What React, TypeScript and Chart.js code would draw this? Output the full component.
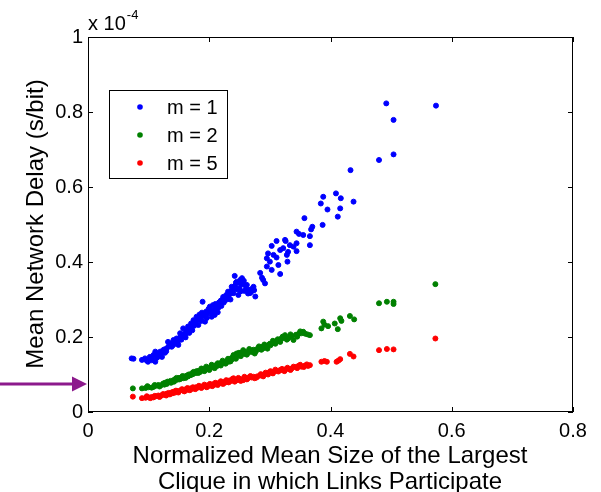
import React, { useEffect, useRef } from "react";
import { Chart, registerables } from "chart.js";

Chart.register(...registerables);

const FONT = "Arial, 'Liberation Sans', sans-serif";

const xTicks = [0, 0.2, 0.4, 0.6, 0.8];
const yTicks = [0, 0.2, 0.4, 0.6, 0.8, 1];
const seriesLabels = ["m = 1", "m = 2", "m = 5"];
const seriesColors = ["#0000ff", "#008000", "#ff0000"];
const xTitleLines = ["Normalized Mean Size of the Largest", "Clique in which Links Participate"];
const yTitle = "Mean Network Delay (s/bit)";

// m = 1 (blue), [x, y] with y in units of 1e-4
const m1Points: number[][] = [
  [0.072, 0.143], [0.075, 0.142], [0.089, 0.139], [0.094, 0.143], [0.099, 0.134], [0.102, 0.147],
  [0.105, 0.138], [0.108, 0.152], [0.111, 0.134], [0.111, 0.161], [0.114, 0.145], [0.116, 0.155],
  [0.119, 0.161], [0.122, 0.147], [0.124, 0.165], [0.127, 0.158], [0.130, 0.170], [0.132, 0.187],
  [0.135, 0.176], [0.138, 0.174], [0.141, 0.192], [0.143, 0.182], [0.146, 0.196], [0.149, 0.179],
  [0.152, 0.210], [0.155, 0.200], [0.157, 0.223], [0.160, 0.205], [0.162, 0.214], [0.165, 0.228],
  [0.168, 0.223], [0.170, 0.236], [0.172, 0.218], [0.174, 0.245], [0.176, 0.238], [0.179, 0.254],
  [0.180, 0.246], [0.182, 0.232], [0.184, 0.260], [0.186, 0.250], [0.188, 0.265], [0.189, 0.294],
  [0.190, 0.256], [0.193, 0.241], [0.195, 0.268], [0.197, 0.262], [0.199, 0.275], [0.201, 0.281],
  [0.203, 0.270], [0.204, 0.254], [0.206, 0.285], [0.208, 0.272], [0.209, 0.259], [0.210, 0.288],
  [0.212, 0.277], [0.214, 0.266], [0.216, 0.292], [0.218, 0.290], [0.220, 0.283], [0.222, 0.300],
  [0.223, 0.307], [0.225, 0.296], [0.226, 0.303], [0.228, 0.312], [0.230, 0.305], [0.231, 0.321],
  [0.233, 0.314], [0.235, 0.300], [0.237, 0.334], [0.238, 0.318], [0.240, 0.317], [0.242, 0.363],
  [0.244, 0.345], [0.245, 0.347], [0.247, 0.327], [0.248, 0.312], [0.250, 0.330], [0.251, 0.352],
  [0.253, 0.340], [0.254, 0.357], [0.256, 0.343], [0.258, 0.323], [0.260, 0.337], [0.262, 0.339],
  [0.264, 0.316], [0.267, 0.317], [0.270, 0.328], [0.273, 0.334], [0.274, 0.325], [0.276, 0.308],
  [0.284, 0.371], [0.287, 0.358], [0.289, 0.352], [0.292, 0.343], [0.295, 0.388], [0.295, 0.410],
  [0.297, 0.423], [0.300, 0.401], [0.303, 0.379], [0.303, 0.443], [0.306, 0.419], [0.311, 0.412],
  [0.311, 0.456], [0.314, 0.392], [0.317, 0.432], [0.317, 0.368], [0.322, 0.437], [0.325, 0.459],
  [0.326, 0.456], [0.328, 0.419], [0.329, 0.401], [0.330, 0.427], [0.333, 0.445], [0.339, 0.441],
  [0.344, 0.481], [0.344, 0.450], [0.344, 0.429], [0.348, 0.475], [0.355, 0.472], [0.357, 0.517],
  [0.366, 0.469], [0.366, 0.445], [0.368, 0.487], [0.370, 0.494], [0.384, 0.556], [0.387, 0.499],
  [0.388, 0.574], [0.395, 0.540], [0.409, 0.583], [0.412, 0.521], [0.416, 0.543], [0.417, 0.570],
  [0.433, 0.645], [0.438, 0.561], [0.480, 0.672], [0.492, 0.823], [0.504, 0.779], [0.504, 0.687],
  [0.574, 0.817],
  [0.097, 0.137], [0.106, 0.145], [0.113, 0.152], [0.118, 0.150], [0.121, 0.158], [0.126, 0.167],
  [0.129, 0.162], [0.133, 0.175], [0.137, 0.183], [0.140, 0.178], [0.144, 0.190], [0.148, 0.187],
  [0.151, 0.198], [0.154, 0.193], [0.158, 0.208], [0.161, 0.199], [0.164, 0.219], [0.167, 0.211],
  [0.171, 0.227], [0.175, 0.230], [0.178, 0.240], [0.183, 0.247], [0.187, 0.243], [0.191, 0.262],
  [0.196, 0.251], [0.200, 0.268], [0.205, 0.263], [0.211, 0.282], [0.215, 0.278], [0.219, 0.297],
  [0.224, 0.292], [0.229, 0.300], [0.232, 0.310], [0.236, 0.323], [0.241, 0.328], [0.243, 0.338],
  [0.249, 0.345], [0.252, 0.322], [0.257, 0.350], [0.261, 0.329], [0.265, 0.326], [0.269, 0.320],
];

// m = 2 (green)
const m2Points: number[][] = [
  [0.074, 0.063], [0.089, 0.063], [0.095, 0.064], [0.100, 0.066], [0.105, 0.065], [0.108, 0.067],
  [0.112, 0.070], [0.116, 0.072], [0.120, 0.071], [0.124, 0.076], [0.127, 0.078], [0.130, 0.075],
  [0.133, 0.080], [0.136, 0.083], [0.139, 0.081], [0.141, 0.085], [0.144, 0.088], [0.147, 0.086],
  [0.150, 0.091], [0.153, 0.089], [0.155, 0.093], [0.157, 0.090], [0.160, 0.095], [0.163, 0.097],
  [0.166, 0.100], [0.168, 0.098], [0.171, 0.103], [0.173, 0.101], [0.176, 0.106], [0.178, 0.104],
  [0.180, 0.108], [0.183, 0.110], [0.185, 0.107], [0.188, 0.112], [0.190, 0.115], [0.193, 0.113],
  [0.196, 0.117], [0.198, 0.115], [0.201, 0.118], [0.203, 0.121], [0.206, 0.119], [0.208, 0.123],
  [0.211, 0.125], [0.213, 0.123], [0.216, 0.127], [0.218, 0.130], [0.220, 0.128], [0.223, 0.133],
  [0.225, 0.131], [0.228, 0.135], [0.230, 0.137], [0.232, 0.134], [0.234, 0.139], [0.236, 0.143],
  [0.238, 0.141], [0.240, 0.152], [0.242, 0.146], [0.245, 0.156], [0.247, 0.150], [0.250, 0.153],
  [0.253, 0.158], [0.256, 0.165], [0.258, 0.155], [0.261, 0.160], [0.264, 0.158], [0.267, 0.163],
  [0.270, 0.160], [0.273, 0.166], [0.275, 0.156], [0.278, 0.167], [0.281, 0.171], [0.284, 0.168],
  [0.287, 0.174], [0.289, 0.170], [0.292, 0.176], [0.295, 0.173], [0.298, 0.179], [0.300, 0.182],
  [0.303, 0.183], [0.306, 0.185], [0.310, 0.188], [0.314, 0.190], [0.318, 0.195], [0.322, 0.197],
  [0.325, 0.205], [0.328, 0.193], [0.332, 0.200], [0.336, 0.203], [0.339, 0.192], [0.343, 0.206],
  [0.347, 0.208], [0.352, 0.210], [0.355, 0.214], [0.362, 0.207], [0.366, 0.205], [0.385, 0.223],
  [0.388, 0.241], [0.390, 0.233], [0.396, 0.229], [0.407, 0.236], [0.412, 0.221], [0.416, 0.250],
  [0.418, 0.243], [0.432, 0.256], [0.439, 0.247], [0.480, 0.290], [0.493, 0.294], [0.504, 0.294],
  [0.504, 0.288], [0.573, 0.341],
  [0.098, 0.069], [0.110, 0.072], [0.118, 0.068], [0.126, 0.073], [0.131, 0.081], [0.137, 0.078],
  [0.142, 0.081], [0.146, 0.091], [0.151, 0.087], [0.156, 0.096], [0.161, 0.091], [0.165, 0.095],
  [0.170, 0.099], [0.174, 0.107], [0.179, 0.109], [0.182, 0.104], [0.187, 0.116], [0.192, 0.109],
  [0.195, 0.121], [0.200, 0.112], [0.204, 0.126], [0.209, 0.117], [0.214, 0.130], [0.219, 0.124],
  [0.222, 0.137], [0.227, 0.129], [0.231, 0.142], [0.235, 0.135], [0.239, 0.147], [0.244, 0.142],
  [0.249, 0.158], [0.252, 0.149], [0.257, 0.161], [0.262, 0.153], [0.266, 0.168], [0.271, 0.164],
  [0.277, 0.162], [0.282, 0.175], [0.286, 0.166], [0.291, 0.180], [0.296, 0.169], [0.301, 0.178],
  [0.305, 0.190], [0.309, 0.182], [0.313, 0.194], [0.317, 0.187], [0.321, 0.201], [0.330, 0.196],
  [0.334, 0.207], [0.345, 0.201], [0.350, 0.215], [0.358, 0.209],
];

// m = 5 (red)
const m5Points: number[][] = [
  [0.074, 0.041], [0.089, 0.037], [0.095, 0.038], [0.100, 0.039], [0.105, 0.040], [0.108, 0.039],
  [0.112, 0.042], [0.116, 0.044], [0.120, 0.043], [0.124, 0.048], [0.127, 0.046], [0.130, 0.049],
  [0.133, 0.051], [0.136, 0.050], [0.139, 0.053], [0.141, 0.054], [0.144, 0.052], [0.147, 0.056],
  [0.150, 0.055], [0.153, 0.058], [0.157, 0.057], [0.160, 0.060], [0.163, 0.059], [0.166, 0.061],
  [0.169, 0.063], [0.172, 0.062], [0.175, 0.064], [0.178, 0.066], [0.181, 0.065], [0.185, 0.067],
  [0.188, 0.068], [0.191, 0.069], [0.194, 0.068], [0.197, 0.071], [0.200, 0.070], [0.203, 0.072],
  [0.206, 0.074], [0.209, 0.073], [0.212, 0.075], [0.215, 0.077], [0.218, 0.078], [0.221, 0.076],
  [0.224, 0.080], [0.227, 0.079], [0.230, 0.082], [0.233, 0.084], [0.236, 0.083], [0.240, 0.090],
  [0.243, 0.086], [0.246, 0.085], [0.250, 0.088], [0.253, 0.087], [0.256, 0.085], [0.260, 0.091],
  [0.263, 0.089], [0.266, 0.093], [0.270, 0.092], [0.275, 0.090], [0.279, 0.095], [0.283, 0.097],
  [0.287, 0.099], [0.291, 0.101], [0.295, 0.103], [0.299, 0.106], [0.303, 0.105], [0.307, 0.108],
  [0.311, 0.110], [0.317, 0.112], [0.322, 0.111], [0.326, 0.114], [0.331, 0.115], [0.336, 0.116],
  [0.342, 0.120], [0.347, 0.123], [0.352, 0.121], [0.358, 0.124], [0.363, 0.123], [0.366, 0.125],
  [0.385, 0.134], [0.390, 0.136], [0.394, 0.134], [0.410, 0.134], [0.413, 0.137], [0.416, 0.141],
  [0.432, 0.155], [0.438, 0.148], [0.480, 0.165], [0.493, 0.168], [0.504, 0.167], [0.573, 0.196],
  [0.097, 0.042], [0.103, 0.037], [0.110, 0.043], [0.118, 0.040], [0.122, 0.045], [0.129, 0.044],
  [0.135, 0.047], [0.140, 0.050], [0.145, 0.057], [0.149, 0.052], [0.155, 0.061], [0.159, 0.055],
  [0.164, 0.064], [0.168, 0.058], [0.173, 0.066], [0.177, 0.061], [0.183, 0.070], [0.187, 0.064],
  [0.192, 0.073], [0.196, 0.066], [0.201, 0.075], [0.205, 0.069], [0.210, 0.078], [0.214, 0.072],
  [0.219, 0.082], [0.223, 0.075], [0.228, 0.085], [0.232, 0.079], [0.238, 0.088], [0.242, 0.081],
  [0.248, 0.091], [0.252, 0.083], [0.258, 0.094], [0.262, 0.087], [0.268, 0.096], [0.273, 0.094],
  [0.278, 0.092], [0.285, 0.101], [0.289, 0.095], [0.293, 0.105], [0.297, 0.100], [0.301, 0.109],
  [0.305, 0.103], [0.309, 0.113], [0.314, 0.108], [0.320, 0.115], [0.324, 0.109], [0.329, 0.118],
  [0.334, 0.112], [0.339, 0.121], [0.345, 0.117], [0.350, 0.126], [0.356, 0.120], [0.361, 0.127],
];

const allSeries = [m1Points, m2Points, m5Points];

const fmt = (v: number) => {
  const r = Math.round(v * 10) / 10;
  return r === 0 ? "0" : String(r);
};

const decorPlugin = {
  id: "decor",
  afterDraw(chart: any) {
    const { ctx, chartArea } = chart;
    const xs = chart.scales.x;
    const ys = chart.scales.y;
    const { left, right, top, bottom } = chartArea;
    ctx.save();
    // Axes box
    ctx.strokeStyle = "#000";
    ctx.lineWidth = 1;
    ctx.strokeRect(left + 0.5, top + 0.5, right - left - 1, bottom - top - 1);
    // Inward ticks
    ctx.beginPath();
    xTicks.forEach((v) => {
      const px = Math.round(xs.getPixelForValue(v)) + 0.5;
      ctx.moveTo(px, bottom);
      ctx.lineTo(px, bottom - 5);
      ctx.moveTo(px, top);
      ctx.lineTo(px, top + 5);
    });
    yTicks.forEach((v) => {
      const py = Math.round(ys.getPixelForValue(v)) + 0.5;
      ctx.moveTo(left, py);
      ctx.lineTo(left + 5, py);
      ctx.moveTo(right, py);
      ctx.lineTo(right - 5, py);
    });
    ctx.stroke();

    // Exponent label
    ctx.fillStyle = "#000";
    ctx.textAlign = "left";
    ctx.textBaseline = "alphabetic";
    ctx.font = `20px ${FONT}`;
    ctx.fillText("x 10", left, 30);
    const w = ctx.measureText("x 10").width;
    ctx.font = `13px ${FONT}`;
    ctx.fillText("-4", left + w + 1, 19);

    // Legend
    const lx = 109, ly = 90, lw = 118, lh = 88;
    ctx.fillStyle = "#fff";
    ctx.fillRect(lx, ly, lw, lh);
    ctx.strokeStyle = "#000";
    ctx.strokeRect(lx + 0.5, ly + 0.5, lw, lh);
    ctx.font = `20px ${FONT}`;
    seriesLabels.forEach((lab, i) => {
      const cy = 107 + i * 28;
      ctx.fillStyle = seriesColors[i];
      ctx.beginPath();
      ctx.arc(140, cy, 2.8, 0, Math.PI * 2);
      ctx.fill();
      ctx.fillStyle = "#000";
      ctx.fillText(lab, 167, cy + 7);
    });

    // Axis titles
    ctx.font = `24px ${FONT}`;
    ctx.textAlign = "center";
    ctx.fillText(xTitleLines[0], 330, 463);
    ctx.fillText(xTitleLines[1], 330, 489);
    ctx.save();
    ctx.translate(43, 224);
    ctx.rotate(-Math.PI / 2);
    ctx.fillText(yTitle, 0, 0);
    ctx.restore();

    // Purple arrow
    ctx.strokeStyle = "#8c1a8c";
    ctx.fillStyle = "#8c1a8c";
    ctx.lineWidth = 3;
    ctx.beginPath();
    ctx.moveTo(0, 384);
    ctx.lineTo(74, 384);
    ctx.stroke();
    ctx.beginPath();
    ctx.moveTo(72, 376.5);
    ctx.lineTo(87, 384);
    ctx.lineTo(72, 391.5);
    ctx.closePath();
    ctx.fill();
    ctx.restore();
  },
};

export default function App() {
  const ref = useRef<HTMLCanvasElement>(null);
  useEffect(() => {
    if (!ref.current) return;
    const chart = new Chart(ref.current, {
      type: "scatter",
      data: {
        datasets: allSeries.map((pts, i) => ({
          label: seriesLabels[i],
          data: pts.map(([x, y]) => ({ x, y })),
          backgroundColor: seriesColors[i],
          borderColor: seriesColors[i],
          borderWidth: 1,
          pointRadius: 2.5,
          pointStyle: "circle",
        })),
      },
      options: {
        animation: false,
        responsive: false,
        devicePixelRatio: 1,
        layout: { padding: { top: 37, right: 28, left: 0, bottom: 0 } },
        plugins: { legend: { display: false }, tooltip: { enabled: false } },
        scales: {
          x: {
            type: "linear",
            min: 0,
            max: 0.8,
            afterBuildTicks: (s: any) => {
              s.ticks = xTicks.map((v) => ({ value: v }));
            },
            afterFit: (s: any) => {
              s.height = 80;
            },
            grid: { display: false, drawTicks: false },
            border: { display: false },
            ticks: {
              padding: 7,
              color: "#000",
              font: { family: FONT, size: 20 },
              maxRotation: 0,
              callback: (v: any) => fmt(Number(v)),
            },
          },
          y: {
            type: "linear",
            min: 0,
            max: 1,
            afterBuildTicks: (s: any) => {
              s.ticks = yTicks.map((v) => ({ value: v }));
            },
            afterFit: (s: any) => {
              s.width = 88;
            },
            grid: { display: false, drawTicks: false },
            border: { display: false },
            ticks: {
              padding: 5,
              color: "#000",
              font: { family: FONT, size: 20 },
              callback: (v: any) => fmt(Number(v)),
            },
          },
        },
      },
      plugins: [decorPlugin],
    });
    return () => chart.destroy();
  }, []);
  return (
    <div style={{ position: "absolute", left: 0, top: 0, width: 601, height: 492, background: "#fff" }}>
      <canvas ref={ref} width={601} height={492} style={{ width: 601, height: 492 }} />
    </div>
  );
}
